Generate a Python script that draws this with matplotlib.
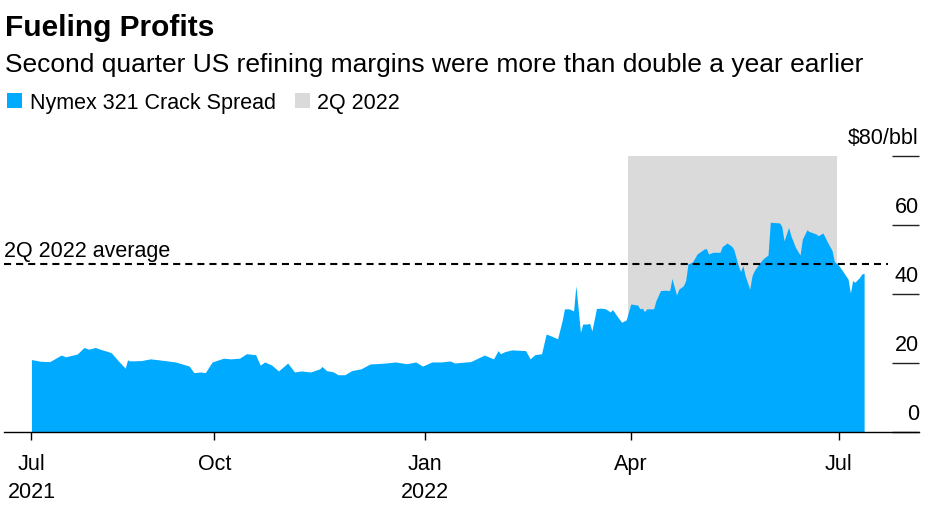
import matplotlib
matplotlib.use("Agg")
import matplotlib.pyplot as plt
import matplotlib.transforms as mtransforms
from matplotlib.patches import Rectangle
import pandas as pd

plt.rcParams['font.family'] = ['Liberation Sans', 'DejaVu Sans']

# ---------------- data ----------------
dates = [
    "2021-07-13", "2021-07-17", "2021-07-21", "2021-07-26", "2021-07-28", "2021-08-02",
    "2021-08-05", "2021-08-07", "2021-08-10", "2021-08-12", "2021-08-16", "2021-08-17",
    "2021-08-20", "2021-08-23", "2021-08-24", "2021-08-25", "2021-08-30", "2021-09-03",
    "2021-09-07", "2021-09-14", "2021-09-17", "2021-09-20", "2021-09-22", "2021-09-25",
    "2021-09-27", "2021-09-30", "2021-10-05", "2021-10-08", "2021-10-12", "2021-10-15",
    "2021-10-19", "2021-10-21", "2021-10-23", "2021-10-26", "2021-10-29", "2021-11-01",
    "2021-11-02", "2021-11-05", "2021-11-08", "2021-11-12", "2021-11-16", "2021-11-17",
    "2021-11-19", "2021-11-22", "2021-11-24", "2021-11-27", "2021-11-30", "2021-12-04",
    "2021-12-08", "2021-12-15", "2021-12-19", "2021-12-24", "2021-12-28", "2021-12-31",
    "2022-01-04", "2022-01-08", "2022-01-12", "2022-01-14", "2022-01-19", "2022-01-21",
    "2022-01-27", "2022-01-31", "2022-02-02", "2022-02-03", "2022-02-05", "2022-02-08",
    "2022-02-11", "2022-02-14", "2022-02-16", "2022-02-18", "2022-02-21", "2022-02-23",
    "2022-02-25", "2022-02-28", "2022-03-02", "2022-03-03", "2022-03-05", "2022-03-07",
    "2022-03-08", "2022-03-09", "2022-03-10", "2022-03-11", "2022-03-13", "2022-03-14",
    "2022-03-15", "2022-03-17", "2022-03-19", "2022-03-21", "2022-03-23", "2022-03-24",
    "2022-03-26", "2022-03-28", "2022-03-30", "2022-04-01", "2022-04-04", "2022-04-05",
    "2022-04-06", "2022-04-07", "2022-04-08", "2022-04-11", "2022-04-12", "2022-04-14",
    "2022-04-16", "2022-04-18", "2022-04-19", "2022-04-21", "2022-04-22", "2022-04-24",
    "2022-04-25", "2022-04-26", "2022-04-28", "2022-04-30", "2022-05-03", "2022-05-04",
    "2022-05-05", "2022-05-07", "2022-05-10", "2022-05-11", "2022-05-12", "2022-05-13",
    "2022-05-15", "2022-05-16", "2022-05-18", "2022-05-19", "2022-05-20", "2022-05-21",
    "2022-05-23", "2022-05-24", "2022-05-25", "2022-05-27", "2022-05-29", "2022-05-31",
    "2022-06-01", "2022-06-05", "2022-06-06", "2022-06-07", "2022-06-09", "2022-06-10",
    "2022-06-12", "2022-06-14", "2022-06-15", "2022-06-17", "2022-06-18", "2022-06-19",
    "2022-06-21", "2022-06-22", "2022-06-24", "2022-06-26", "2022-06-28", "2022-06-29",
    "2022-07-01", "2022-07-03", "2022-07-05", "2022-07-06", "2022-07-07", "2022-07-08",
    "2022-07-10", "2022-07-11", "2022-07-12",
]
crack_spread = [
    21.0, 20.5, 20.4, 22.3, 21.8, 22.6,
    24.5, 24.0, 24.5, 24.0, 23.2, 22.9,
    20.6, 18.5, 20.9, 20.6, 20.7, 21.2,
    20.9, 20.3, 19.7, 19.1, 17.2, 17.4,
    17.2, 20.3, 21.4, 21.2, 21.4, 22.7,
    22.4, 19.4, 20.3, 19.4, 17.7, 19.4,
    20.0, 17.4, 17.7, 17.4, 18.3, 19.0,
    17.8, 17.4, 16.6, 16.6, 17.8, 18.3,
    19.7, 20.0, 20.3, 19.8, 20.3, 19.1,
    20.3, 20.3, 20.6, 20.0, 20.3, 20.4,
    22.3, 21.2, 23.6, 22.7, 23.3, 23.8,
    23.7, 23.6, 21.2, 22.4, 22.7, 28.4,
    27.9, 27.0, 32.3, 35.7, 35.7, 35.1,
    42.4, 35.7, 28.9, 31.3, 31.3, 31.5,
    29.3, 35.8, 35.9, 35.7, 34.8, 35.5,
    33.6, 31.8, 32.5, 37.1, 36.8, 35.7,
    35.9, 34.9, 35.7, 35.7, 38.1, 41.0,
    41.1, 41.0, 44.5, 39.7, 41.4, 42.4,
    43.9, 48.7, 49.3, 51.6, 53.0, 53.2,
    51.6, 52.1, 52.1, 53.8, 54.2, 54.8,
    53.9, 53.0, 48.2, 46.5, 48.2, 45.3,
    41.4, 45.3, 46.8, 48.7, 50.3, 51.3,
    60.8, 60.6, 59.6, 55.4, 59.3, 56.9,
    53.5, 51.3, 55.9, 58.6, 58.1, 57.9,
    57.4, 56.9, 57.7, 55.0, 52.6, 49.4,
    48.2, 46.3, 44.3, 40.3, 43.9, 43.4,
    44.8, 45.8, 46.0,
]
q2_start, q2_end = "2022-03-31", "2022-06-30"
q2_average = 48.8
x_limits = ["2021-07-01", "2022-08-05"]
x_tick_dates = ["2021-07-13", "2021-10-01", "2022-01-01", "2022-04-01", "2022-07-01"]
x_tick_labels = ["Jul\n2021", "Oct", "Jan\n2022", "Apr", "Jul"]
y_ticks = [0, 20, 40, 60, 80]
y_tick_labels = ["0", "20", "40", "60", "$80/bbl"]

title = "Fueling Profits"
subtitle = "Second quarter US refining margins were more than double a year earlier"
legend_labels = ["Nymex 321 Crack Spread", "2Q 2022"]

BLUE = "#00AAFF"
GRAY = "#DADADA"
FS = 15.5

# ---------------- figure ----------------
W, H = 939, 506
fig = plt.figure(figsize=(W / 100, H / 100), dpi=100)
ax = fig.add_axes([4 / W, 73 / H, 915 / W, 276 / H])

x = pd.to_datetime(dates)
ax.axvspan(pd.Timestamp(q2_start), pd.Timestamp(q2_end), color=GRAY, lw=0, zorder=1)
ax.fill_between(x, 0, crack_spread, color=BLUE, lw=0, zorder=2)
ax.axhline(q2_average, xmin=0, xmax=0.966, color="black", lw=1.5,
           dashes=(3.4, 2.4), zorder=3)
ax.annotate("2Q 2022 average", xy=(0, q2_average),
            xycoords=mtransforms.blended_transform_factory(ax.transAxes, ax.transData),
            xytext=(0, 5.5), textcoords="offset points",
            ha="left", va="baseline", fontsize=FS, color="black")

ax.set_xlim(pd.Timestamp(x_limits[0]), pd.Timestamp(x_limits[1]))
ax.set_ylim(0, 80)

for s in ["left", "top", "right"]:
    ax.spines[s].set_visible(False)
ax.spines["bottom"].set_color("black")
ax.spines["bottom"].set_linewidth(1.0)
ax.spines["bottom"].set_zorder(4)

ax.set_xticks(pd.to_datetime(x_tick_dates))
ax.set_xticklabels(x_tick_labels, fontsize=FS, linespacing=1.45)
ax.tick_params(axis="x", direction="out", length=5.8, width=1, color="black", pad=9.5)

ax.yaxis.set_ticks_position("right")
ax.set_yticks(y_ticks)
ax.tick_params(axis="y", direction="in", length=19.4, width=1, color="#222222",
               labelright=False, labelleft=False)
ytrans = mtransforms.blended_transform_factory(ax.transAxes, ax.transData)
for v, lab in zip(y_ticks, y_tick_labels):
    ax.annotate(lab, xy=(1.0, v), xycoords=ytrans, xytext=(0, 13.3),
                textcoords="offset points", ha="right", va="center",
                fontsize=FS, color="black")

# titles
fig.text(5 / W, 1 - 36 / H, title, fontsize=21.5, fontweight="bold",
         va="baseline", ha="left")
fig.text(5 / W, 1 - 72 / H, subtitle, fontsize=19, va="baseline", ha="left")

# legend
leg_base = 1 - 109 / H
fig.patches.append(Rectangle((6.7 / W, leg_base), 15 / W, 15 / H,
                             transform=fig.transFigure, color=BLUE, lw=0))
fig.text(30 / W, leg_base, legend_labels[0], fontsize=FS, va="baseline", ha="left")
fig.patches.append(Rectangle((295 / W, leg_base), 15 / W, 15 / H,
                             transform=fig.transFigure, color=GRAY, lw=0))
fig.text(317 / W, leg_base, legend_labels[1], fontsize=FS, va="baseline", ha="left")

fig.savefig("out.png", dpi=100)
